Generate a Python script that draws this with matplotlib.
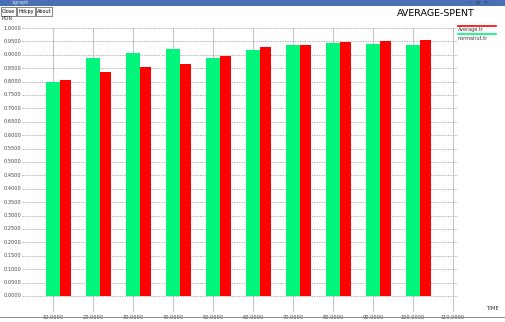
import matplotlib.pyplot as plt
from matplotlib.patches import Rectangle

# data
times = [10, 20, 30, 40, 50, 60, 70, 80, 90, 100]
green_vals = [0.800, 0.888, 0.906, 0.922, 0.889, 0.918, 0.937, 0.945, 0.939, 0.938]
red_vals = [0.806, 0.835, 0.855, 0.867, 0.896, 0.928, 0.937, 0.948, 0.950, 0.955]
x_ticks = [10, 20, 30, 40, 50, 60, 70, 80, 90, 100, 110]
y_ticks = [i * 0.05 for i in range(21)]
legend_labels = ['Average.tr', 'normalrut.tr']

GREEN = '#00f57a'
RED = '#ff0000'
W, H = 505, 322

fig = plt.figure(figsize=(W / 100, H / 100), dpi=100)
fig.patch.set_facecolor('white')


def fx(px):
    return px / W


def fy(py):
    return 1 - py / H


# window chrome: title bar and buttons
fig.patches.append(Rectangle((0, fy(6)), 1, 6 / H, transform=fig.transFigure,
                             facecolor='#4a6fb5', edgecolor='none'))
fig.text(fx(12), fy(2.5), 'xgraph', fontsize=3.5, color='#dde6ff', va='center')
fig.text(fx(470), fy(2.5), '–  ▫  ×', fontsize=4, color='#333333', va='center')
for label, x0, w in [('Close', 1, 15), ('Hdcpy', 17, 18), ('About', 36, 16)]:
    fig.patches.append(Rectangle((fx(x0), fy(16)), w / W, 9 / H, transform=fig.transFigure,
                                 facecolor='white', edgecolor='#555555', lw=0.5))
    fig.text(fx(x0 + w / 2), fy(11.5), label, fontsize=3.5, ha='center', va='center')

# plot area in pixels: left 22, right 458, top 28, bottom 312
ax = fig.add_axes([fx(22), fy(312), 436 / W, 284 / H])
ax.set_xlim(2.25, 111.25)
ax.set_ylim(-0.06, 1.0)
for s in ax.spines.values():
    s.set_visible(False)
ax.set_xticks([])
ax.set_yticks([])

for y in y_ticks:
    ax.axhline(y, color='#999999', lw=0.5, ls=(0, (2, 1.5)), zorder=0)
for x in x_ticks:
    ax.axvline(x, color='#aaaaaa', lw=0.5, zorder=0)

ax.bar(times, green_vals, width=3.3, color=GREEN, align='center', zorder=2)
ax.bar([t + 1.65 for t in times], red_vals, width=2.9, color=RED, align='edge', zorder=2)

for y in y_ticks:
    ax.text(-0.002, y, f'{y:.4f}', transform=ax.get_yaxis_transform(),
            ha='right', va='center', fontsize=3.6, color='#444444')
for x in x_ticks:
    ax.text(x, -0.012, f'{x:.4f}', transform=ax.get_xaxis_transform(),
            ha='center', va='top', fontsize=3.6, color='#444444', clip_on=False)

fig.text(fx(2), fy(19), 'PDR', fontsize=4, va='center', ha='left', color='#333333')
fig.text(fx(486), fy(309), 'TIME', fontsize=4, va='center', ha='left', color='#333333')
fig.text(fx(436), fy(13), 'AVERAGE-SPENT', fontsize=6.8, va='center', ha='center')

# legend
for i, (lab, col) in enumerate(zip(legend_labels, [RED, GREEN])):
    yl = 26 + i * 8
    fig.add_artist(plt.Line2D([fx(458), fx(496)], [fy(yl), fy(yl)],
                              transform=fig.transFigure, color=col, lw=1.2))
    fig.text(fx(458), fy(yl + 4), lab, fontsize=3.5, va='center', ha='left', color='#333333')

fig.add_artist(plt.Line2D([0, 1], [fy(317), fy(317)], transform=fig.transFigure,
                          color='#777777', lw=0.6))

fig.savefig('out.png', dpi=100)
